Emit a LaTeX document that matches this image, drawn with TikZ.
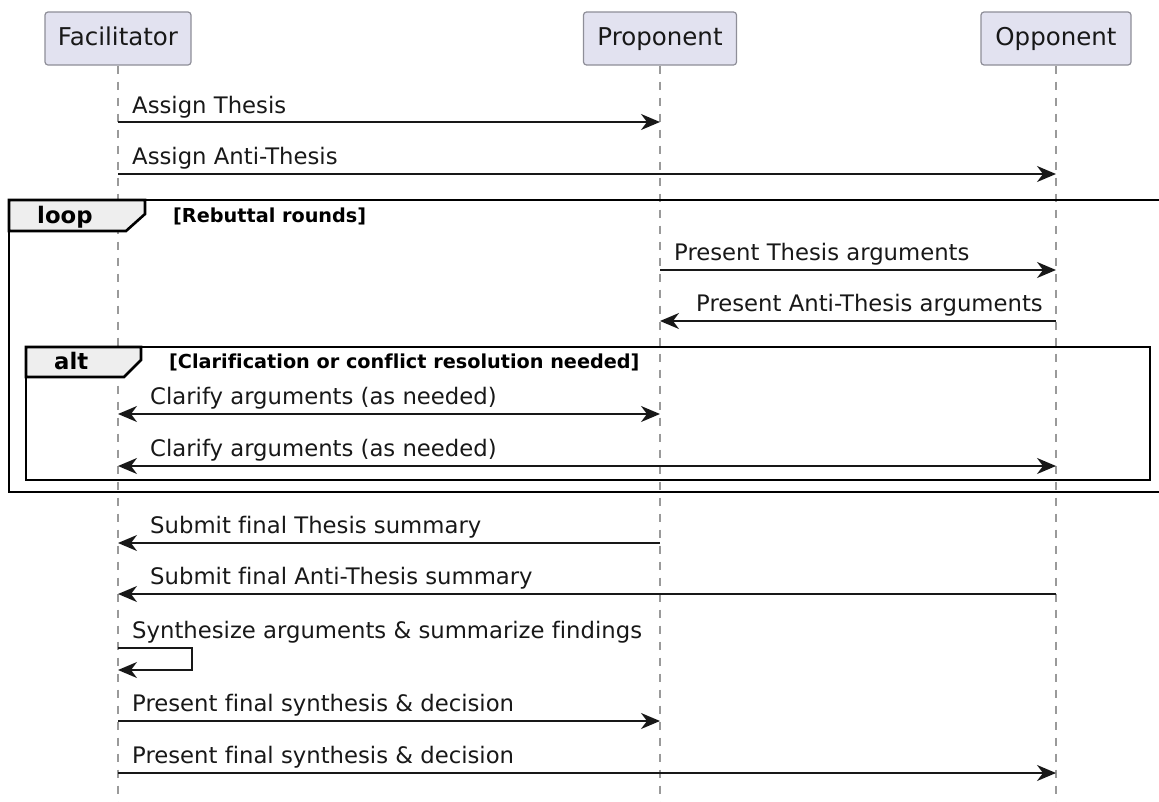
\documentclass[tikz,border=0pt]{standalone}
\usepackage{fontspec}
\setmainfont{DejaVu Sans}[Ligatures=NoCommon]
\usetikzlibrary{arrows.meta}

\definecolor{partfill}{HTML}{E2E2F0}
\definecolor{partline}{HTML}{8E8E98}
\definecolor{lifegray}{HTML}{9A9A9A}
\definecolor{inkcol}{HTML}{181818}
\definecolor{tabfill}{HTML}{EEEEEE}

\begin{document}
\begin{tikzpicture}
      [%%%%%%%%%%%%%%%%%%%%%%%%%%%%%%
      x=1pt,y=-1pt,
      actor/.style={rectangle,rounded corners=3pt,draw=partline,fill=partfill,line width=1.2pt,
        minimum height=53pt,inner xsep=12pt,text height=19pt,text depth=5pt,
        text=inkcol,font=\fontsize{24.5}{29}\selectfont},
      life/.style={draw=lifegray,line width=1.2pt,dash pattern=on 8pt off 8pt},
      msg/.style={draw=inkcol,line width=1.75pt,-{Stealth[length=19pt,width=16pt,inset=6pt]}},
      both/.style={draw=inkcol,line width=1.75pt,{Stealth[length=19pt,width=16pt,inset=6pt]}-{Stealth[length=19pt,width=16pt,inset=6pt]}},
      txt/.style={inner sep=0pt,anchor=base west,text=inkcol,font=\fontsize{22.75}{27}\selectfont},
      rtxt/.style={txt,anchor=base east},
      frame/.style={draw=black,line width=2.6pt},
      tab/.style={draw=black,fill=tabfill,line width=2.6pt,line join=miter},
      tablbl/.style={inner sep=0pt,anchor=base west,font=\bfseries\fontsize{22.75}{27}\selectfont},
      guard/.style={inner sep=0pt,anchor=base west,font=\bfseries\fontsize{19.25}{23}\selectfont},
      ]%%%%%%%%%%%%%%%%%%%%%%%%%%%%%%
      \useasboundingbox (0,0) rectangle (1159,801);

      % participants and lifelines
      \node[actor,minimum width=146pt] (fac) at (118,38.5) {Facilitator};
      \node[actor,minimum width=153pt] (pro) at (660,38.5) {Proponent};
      \node[actor,minimum width=150pt] (opp) at (1056,38.5) {Opponent};
      \foreach \p in {fac,pro,opp}
        \draw[life] (\p.south) -- (\p |- 0,810);

      \node[txt] (m1) at (132,113) {Assign Thesis};
      \draw[msg] (fac |- 0,122) -- (pro |- 0,122);
      \node[txt] (m2) at (132,164) {Assign Anti-Thesis};
      \draw[msg] (fac |- 0,174) -- (opp |- 0,174);

      % loop frame
      \draw[frame] (9,200) rectangle (1166,492);
      \draw[tab] (9,200) -- (145,200) -- (145,214) -- (126,231) -- (9,231) -- cycle;
      \node[tablbl] (looplbl) at (37,223) {loop};
      \node[guard] (loopgd) at (173,222) {[Rebuttal rounds]};

      \node[txt] (m3) at (674,260) {Present Thesis arguments};
      \draw[msg] (pro |- 0,270) -- (opp |- 0,270);
      \node[rtxt] (m4) at (1043,311) {Present Anti-Thesis arguments};
      \draw[msg] (opp |- 0,321) -- (pro |- 0,321);

      % alt frame
      \draw[frame] (26,347) rectangle (1150,480);
      \draw[tab] (26,347) -- (141,347) -- (141,360) -- (124,377) -- (26,377) -- cycle;
      \node[tablbl] (altlbl) at (54,369) {alt};
      \node[guard] (altgd) at (169,368) {[Clarification or conflict resolution needed]};

      \node[txt] (m5) at (150,404) {Clarify arguments (as needed)};
      \draw[both] (fac |- 0,414) -- (pro |- 0,414);
      \node[txt] (m6) at (150,456) {Clarify arguments (as needed)};
      \draw[both] (fac |- 0,466) -- (opp |- 0,466);

      % after the loop
      \node[txt] (m7) at (150,533) {Submit final Thesis summary};
      \draw[msg] (pro |- 0,543) -- (fac |- 0,543);
      \node[txt] (m8) at (150,584) {Submit final Anti-Thesis summary};
      \draw[msg] (opp |- 0,594) -- (fac |- 0,594);

      \node[txt] (m9) at (132,638) {Synthesize arguments \& summarize findings};
      \draw[msg] (fac |- 0,648) -- ++(74,0) -- ++(0,22) -- (fac |- 0,670);

      \node[txt] (m10) at (132,711) {Present final synthesis \& decision};
      \draw[msg] (fac |- 0,721) -- (pro |- 0,721);
      \node[txt] (m11) at (132,763) {Present final synthesis \& decision};
      \draw[msg] (fac |- 0,773) -- (opp |- 0,773);
    \end{tikzpicture}
\end{document}
